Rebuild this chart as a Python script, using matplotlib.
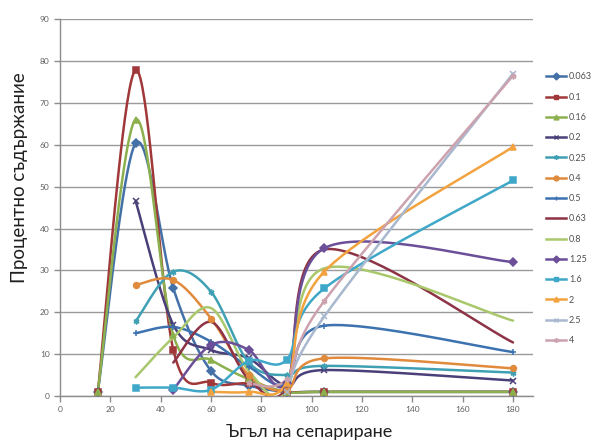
import numpy as np
import matplotlib
matplotlib.use("Agg")
import matplotlib.pyplot as plt
from matplotlib.lines import Line2D

plt.rcParams['font.family'] = ['Lato', 'DejaVu Sans']

angles = [15, 30, 45, 60, 75, 90, 105, 180]

# fraction sizes and their content (%) at each separation angle; None = no value
fractions = ["0.063", "0.1", "0.16", "0.2", "0.25", "0.4", "0.5",
             "0.63", "0.8", "1.25", "1.6", "2", "2.5", "4"]

s_0063 = [1.0, 60.3, 25.7, 6.0, 2.5, 1.0, 1.0, 1.0]
s_01 = [1.0, 77.8, 11.0, 3.2, 3.0, 1.0, 1.0, 1.0]
s_016 = [1.0, 66.0, 14.5, 8.6, 4.0, 1.0, 1.0, 1.0]
s_02 = [None, 46.6, 17.0, 11.0, 9.0, 2.5, 6.2, 3.7]
s_025 = [None, 17.8, 29.7, 24.9, 8.0, 5.0, 7.2, 5.6]
s_04 = [None, 26.5, 27.7, 18.5, 5.0, 1.5, 9.0, 6.6]
s_05 = [None, 15.0, 16.5, 13.0, 7.0, 3.0, 16.8, 10.5]
s_063 = [None, None, 8.0, 17.7, 4.0, 2.0, 35.0, 12.8]
s_08 = [None, 4.5, 14.0, 21.0, 6.0, 1.0, 30.5, 18.0]
s_125 = [None, None, 1.5, 12.2, 11.0, 3.0, 35.3, 32.0]
s_16 = [None, 2.0, 2.0, 1.5, 8.4, 8.6, 25.7, 51.5]
s_2 = [None, None, None, 1.0, 1.0, 3.0, 29.7, 59.5]
s_25 = [None, None, None, None, None, 1.0, 19.0, 77.0]
s_4 = [None, None, None, None, 3.0, 4.0, 22.7, 76.5]

series = [s_0063, s_01, s_016, s_02, s_025, s_04, s_05,
          s_063, s_08, s_125, s_16, s_2, s_25, s_4]

colors = ["#4470A8", "#A0383A", "#8CB04E", "#4A3F78", "#3FA0B4", "#E08A3C",
          "#3D72B0", "#8E3346", "#A9C86C", "#6B4F98", "#3FA8C8", "#F2A23E",
          "#A8B8CE", "#CCA2AE"]
markers = ["D", "s", "^", "x", (6, 2, 0), "o", "+",
           None, None, "D", "s", "^", "x", (6, 2, 0)]


def smooth(xs, ys, n=40):
    """Bezier curve through the points, as spreadsheet 'smoothed lines' draw it."""
    p = np.column_stack([xs, ys]).astype(float)
    if len(p) < 3:
        return p[:, 0], p[:, 1]
    ext = np.vstack([p[0], p, p[-1]])
    out = []
    t = np.linspace(0, 1, n)[:, None]
    for i in range(len(p) - 1):
        p0, p1 = ext[i + 1], ext[i + 2]
        c1 = p0 + (ext[i + 2] - ext[i]) / 6.0
        c2 = p1 - (ext[i + 3] - ext[i + 1]) / 6.0
        seg = ((1 - t) ** 3) * p0 + 3 * ((1 - t) ** 2) * t * c1 \
            + 3 * (1 - t) * t ** 2 * c2 + t ** 3 * p1
        out.append(seg if i == 0 else seg[1:])
    out = np.vstack(out)
    return out[:, 0], out[:, 1]


fig = plt.figure(figsize=(5.95, 4.44), dpi=100)
ax = fig.add_axes([0.101, 0.108, 0.795, 0.849])

handles = []
for name, vals, col, mk in zip(fractions, series, colors, markers):
    xs = [a for a, v in zip(angles, vals) if v is not None]
    ys = [v for v in vals if v is not None]
    sx, sy = smooth(xs, ys)
    ax.plot(sx, sy, color=col, lw=1.8, solid_capstyle='round', zorder=3)
    if mk is not None:
        ax.plot(xs, ys, linestyle='none', marker=mk, color=col,
                markersize=4.2, markeredgewidth=1.1, zorder=4)
    handles.append(Line2D([0], [0], color=col, lw=1.8, marker=mk,
                          markersize=3.5, markeredgewidth=1.0))

ax.set_xlim(0, 188)
ax.set_ylim(0, 90)
ax.set_xticks(np.arange(0, 181, 20))
ax.set_yticks(np.arange(0, 91, 10))
ax.grid(axis='y', color='#9a9a9a', lw=1.0, zorder=0)
ax.set_axisbelow(True)
for sp in ['top', 'right']:
    ax.spines[sp].set_visible(False)
for sp in ['left', 'bottom']:
    ax.spines[sp].set_color('#8c8c8c')
    ax.spines[sp].set_linewidth(1.0)
ax.tick_params(axis='both', labelsize=6, colors='#8c8c8c', labelcolor='#606060',
               length=4, width=1.0, direction='out')

ax.set_ylabel("Процентно съдържание", fontsize=13.5, color='#202020',
              va='center', ha='center')
ax.set_xlabel("Ъгъл на сепариране", fontsize=13, color='#202020',
              va='center', ha='center')
ax.yaxis.set_label_coords(-0.085, 0.58)
ax.xaxis.set_label_coords(0.526, -0.095)

fig.legend(handles, fractions, loc='upper left', bbox_to_anchor=(0.912, 0.845),
           frameon=False, fontsize=6.5, handlelength=2.2, handletextpad=0.3,
           labelspacing=1.25, labelcolor='#505050', borderaxespad=0)

fig.savefig("out.png", dpi=100, facecolor='white')
